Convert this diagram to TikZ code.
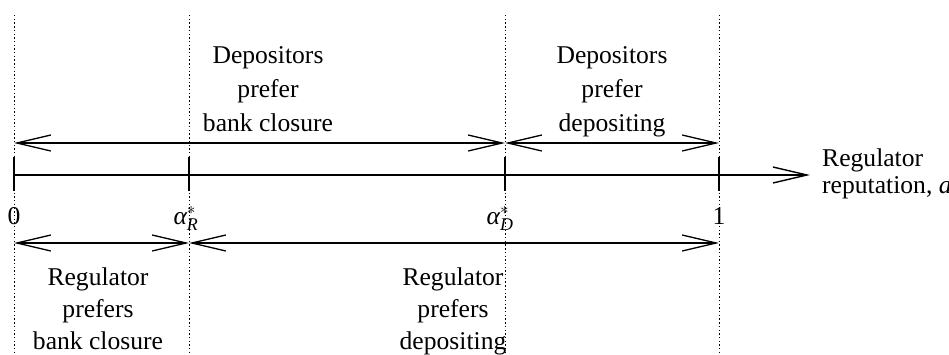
\documentclass[tikz,border=0pt]{standalone}
\usepackage{amsmath}
\usepackage{fontspec}
\setmainfont{Liberation Serif}
\usetikzlibrary{arrows.meta}
\begin{document}
\begin{tikzpicture}[x=1pt,y=-1pt,
  every node/.style={inner sep=0pt,font=\fontsize{25.6}{34}\selectfont},
  guide/.style={line width=1pt,dash pattern=on 1.4pt off 2.3pt},
  axisline/.style={line width=1.4pt},
  dimarrow/.style={line width=1.3pt,{Straight Barb[length=34pt,width=16pt]}-{Straight Barb[length=34pt,width=16pt]}},
  label/.style={align=center,anchor=base}]
\useasboundingbox (0,0) rectangle (949,354);
\foreach \n/\x in {z/14,r/189,d/505,o/719}{
  \coordinate (\n-top) at (\x,15);
  \coordinate (\n-bot) at (\x,354);
  \coordinate (\n-up) at (\x,143);
  \coordinate (\n-lo) at (\x,243);
  \coordinate (\n-t1) at (\x,157);
  \coordinate (\n-t2) at (\x,191);
  \coordinate (\n-ax) at (\x,175);
}
\coordinate (axend) at (810,175);
\foreach \n in {z,r,d,o}{
  \draw[guide] (\n-top) -- (\n-bot);
  \draw[axisline] (\n-t1) -- (\n-t2);
}
\draw[axisline,-{Straight Barb[length=34pt,width=16pt]}] (z-ax) -- (axend);
\draw[dimarrow] (z-up) -- (d-up);
\draw[dimarrow] (d-up) -- (o-up);
\draw[dimarrow] (z-lo) -- (r-lo);
\draw[dimarrow] (r-lo) -- (o-lo);
\node[label] (dpc) at (268,131) {Depositors\\prefer\\bank closure};
\node[label] (dpd) at (612,131) {Depositors\\prefer\\depositing};
\node[align=left,anchor=base west,font=\fontsize{25.6}{27}\selectfont] (axl) at (822,193) {Regulator\\reputation, \textit{a}};
\node[label,font=\fontsize{25.6}{32}\selectfont] (rpc) at (98,349) {Regulator\\prefers\\bank closure};
\node[label,font=\fontsize{25.6}{32}\selectfont] (rpd) at (453,349) {Regulator\\prefers\\depositing};
\node[anchor=base] (l0) at (14,224) {0};
\node[anchor=base] (lr) at (186,224) {$\textit{α}^{*}_{\text{\itshape R}}$};
\node[anchor=base] (ld) at (500,224) {$\textit{α}^{*}_{\text{\itshape D}}$};
\node[anchor=base] (l1) at (719,224) {1};
\end{tikzpicture}
\end{document}
